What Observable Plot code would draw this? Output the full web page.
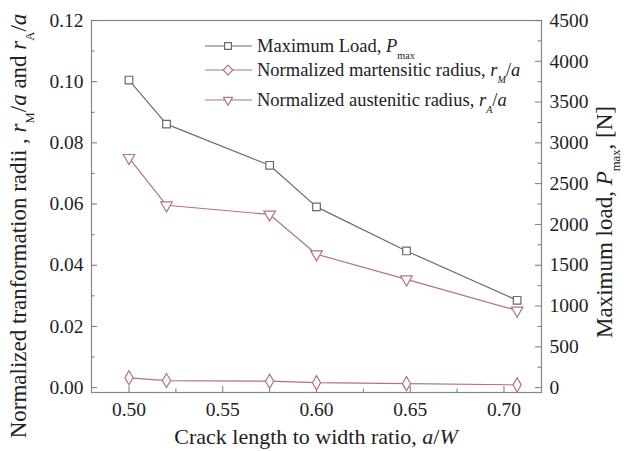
<!DOCTYPE html>
<html>
<head>
<meta charset="utf-8">
<script src="https://cdn.jsdelivr.net/npm/d3@7"></script>
<script src="https://cdn.jsdelivr.net/npm/@observablehq/plot@0.6"></script>
<style>
  html, body { margin: 0; padding: 0; background: #fff; }
  #chart svg { display: block; }
</style>
</head>
<body>
<div id="chart"></div>
<script>
// ---- data ----
const crackRatio   = [0.5, 0.52, 0.575, 0.6, 0.648, 0.707];
const maxLoad      = [3770, 3230, 2725, 2215, 1675, 1070];      // N (right axis)
const rMartensitic = [0.0032, 0.0023, 0.0021, 0.0016, 0.0013, 0.0009];
const rAustenitic  = [0.0751, 0.0596, 0.0566, 0.0436, 0.0354, 0.0252];

const xTicks      = [0.50, 0.55, 0.60, 0.65, 0.70];
const xMinor      = [0.525, 0.575, 0.625, 0.675];
const leftTicks   = [0, 0.02, 0.04, 0.06, 0.08, 0.10, 0.12];
const leftMinor   = [0.01, 0.03, 0.05, 0.07, 0.09, 0.11];
const rightTicks  = [0, 500, 1000, 1500, 2000, 2500, 3000, 3500, 4000, 4500];
const rightMinor  = [250, 750, 1250, 1750, 2250, 2750, 3250, 3750, 4250];

const leftMax = 0.12, rightMax = 4500;
const k = leftMax / rightMax;           // right-axis units -> left-axis units

const GRAY = "#6a6a6a", PINK = "#b4708a";
const FONT = "Liberation Serif";

const rows = crackRatio.map((x, i) => ({x, p: maxLoad[i], m: rMartensitic[i], a: rAustenitic[i]}));

const W = 626, H = 451, mL = 91, mR = 85, mT = 20, mB = 59;
const fw = W - mL - mR, fh = H - mT - mB;

const chart = Plot.plot({
  width: W, height: H,
  marginLeft: mL, marginRight: mR, marginTop: mT, marginBottom: mB,
  style: "font-family: 'Liberation Serif', serif; font-size: 19px; color: #222; background: #fff;",
  x: {domain: [0.48, 0.72]},
  y: {domain: [-0.0016, 0.12]},
  marks: [
    Plot.frame({stroke: "#888", strokeWidth: 1.2}),
    // inward ticks
    Plot.ruleX(xTicks, {x: d => d, insetTop: fh - 6, stroke: "#777"}),
    Plot.ruleX(xMinor, {x: d => d, insetTop: fh - 3.5, stroke: "#777"}),
    Plot.ruleY(leftTicks, {y: d => d, insetRight: fw - 6, stroke: "#777"}),
    Plot.ruleY(leftMinor, {y: d => d, insetRight: fw - 3.5, stroke: "#777"}),
    Plot.ruleY(rightTicks, {y: d => d * k, insetLeft: fw - 6, stroke: "#777"}),
    Plot.ruleY(rightMinor, {y: d => d * k, insetLeft: fw - 3.5, stroke: "#777"}),
    // axes
    Plot.axisX({ticks: xTicks, tickFormat: d3.format(".2f"), tickSize: 0, tickPadding: 10, label: null, fontSize: 19.5}),
    Plot.axisY({ticks: leftTicks, tickFormat: d3.format(".2f"), tickSize: 0, tickPadding: 8, label: null, fontSize: 19.5}),
    Plot.axisY({anchor: "right", ticks: rightTicks.map(d => d * k), tickFormat: d => String(Math.round(d / k)), tickSize: 0, tickPadding: 8, label: null, fontSize: 19.5}),
    // series
    Plot.line(rows, {x: "x", y: d => d.p * k, stroke: GRAY, strokeWidth: 1.2}),
    Plot.dot(rows, {x: "x", y: d => d.p * k, symbol: "square", r: 4.3, stroke: GRAY, fill: "white", strokeWidth: 1.2}),
    Plot.line(rows, {x: "x", y: "m", stroke: PINK, strokeWidth: 1.2}),
    Plot.dot(rows, {x: "x", y: "m", symbol: "diamond", r: 4.3, stroke: PINK, fill: "white", strokeWidth: 1.2}),
    Plot.line(rows, {x: "x", y: "a", stroke: PINK, strokeWidth: 1.2}),
    Plot.dot(rows, {x: "x", y: "a", symbol: "triangle", rotate: 180, r: 4.3, stroke: PINK, fill: "white", strokeWidth: 1.2})
  ]
});

document.getElementById("chart").appendChild(chart);

const svg = d3.select(chart);
const g = svg.append("g").attr("fill", "#222").attr("font-family", FONT);

// helper: rich text with italic and subscript parts
function rich(sel, parts, size) {
  parts.forEach(p => {
    const t = sel.append("tspan").text(p.t);
    if (p.i) t.attr("font-style", "italic");
    if (p.sub) t.attr("font-size", size * 0.55).attr("dy", size * 0.35);
    if (p.back) t.attr("dy", -size * 0.35);
  });
}

// legend
const legend = [
  {y: 46, color: GRAY, sym: d3.symbolSquare2, rot: 0,
   parts: [{t: "Maximum Load, "}, {t: "P", i: true}, {t: "max", sub: true}]},
  {y: 70, color: PINK, sym: d3.symbolDiamond2, rot: 0,
   parts: [{t: "Normalized martensitic radius, "}, {t: "r", i: true}, {t: "M", sub: true, i: true}, {t: "/", back: true}, {t: "a", i: true}]},
  {y: 100, color: PINK, sym: d3.symbolTriangle2, rot: 180,
   parts: [{t: "Normalized austenitic radius, "}, {t: "r", i: true}, {t: "A", sub: true, i: true}, {t: "/", back: true}, {t: "a", i: true}]}
];
const LS = 18.5;
legend.forEach(l => {
  g.append("line").attr("x1", 205).attr("x2", 252).attr("y1", l.y).attr("y2", l.y)
    .attr("stroke", l.color).attr("stroke-width", 1.2);
  g.append("path").attr("d", d3.symbol(l.sym, 60)())
    .attr("transform", `translate(228,${l.y}) rotate(${l.rot})`)
    .attr("fill", "white").attr("stroke", l.color).attr("stroke-width", 1.2);
  const t = g.append("text").attr("x", 257).attr("y", l.y).attr("dy", "0.35em")
    .attr("font-size", LS).attr("text-anchor", "start");
  rich(t, l.parts, LS);
});

// x title
const XS = 22;
const xt = g.append("text").attr("x", mL + fw / 2).attr("y", 444).attr("text-anchor", "middle").attr("font-size", XS);
rich(xt, [{t: "Crack length to width ratio, "}, {t: "a", i: true}, {t: "/"}, {t: "W", i: true}], XS);

// left title
const TS = 23;
const yl = g.append("text").attr("transform", "translate(26,226) rotate(-90)").attr("text-anchor", "middle").attr("font-size", TS);
rich(yl, [{t: "Normalized tranformation radii , "}, {t: "r", i: true}, {t: "M", sub: true}, {t: "/", back: true}, {t: "a", i: true},
          {t: " and "}, {t: "r", i: true}, {t: "A", sub: true}, {t: "/", back: true}, {t: "a", i: true}], TS);

// right title
const yr = g.append("text").attr("transform", "translate(612,222) rotate(-90)").attr("text-anchor", "middle").attr("font-size", TS);
rich(yr, [{t: "Maximum load, "}, {t: "P", i: true}, {t: "max", sub: true}, {t: ", [N]", back: true}], TS);
</script>
</body>
</html>
